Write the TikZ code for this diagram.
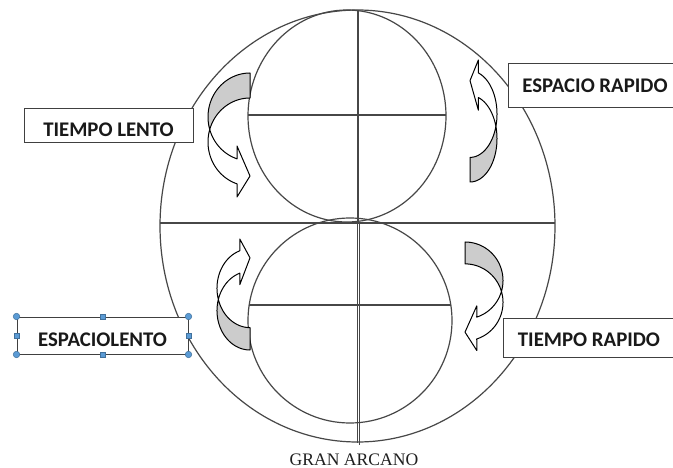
\documentclass[tikz,border=0pt]{standalone}
\usepackage{fontspec}
\setmainfont{Liberation Serif}
\newfontfamily\calfont{Carlito}
\definecolor{hfill}{RGB}{91,155,213}
\definecolor{hdraw}{RGB}{65,113,156}
\definecolor{backgray}{RGB}{204,204,204}
\tikzset{
  circ/.style={draw=black!72, line width=1.2pt},
  arrowline/.style={draw=black, line width=1pt, line join=round},
  labelbox/.style={draw=black!75, line width=1pt, fill=white, inner xsep=0pt, inner ysep=0pt, anchor=base,
    font=\calfont\bfseries\fontsize{20.8}{24}\selectfont, text=black!90},
  hcirc/.style={circle, fill=hfill, draw=hdraw, line width=0.5pt, inner sep=0pt, minimum size=6.5pt},
  hsq/.style={rectangle, fill=hfill, draw=hdraw, line width=0.5pt, inner sep=0pt, minimum size=5pt},
  curvarr/.pic={
    \path[fill=backgray, arrowline]
      plot[domain=270:163.5, samples=40, variable=\t] ({42*cos(\t)}, {44+44*sin(\t)})
      -- plot[domain=196.5:270, samples=40, variable=\t] ({42*cos(\t)}, {69+44*sin(\t)}) -- cycle;
    \path[fill=white, arrowline]
      plot[domain=196.5:108, samples=40, variable=\t] ({42*cos(\t)}, {69+44*sin(\t)})
      -- (-13,124) -- (0,103) -- (-13,73)
      -- plot[domain=108:163.5, samples=30, variable=\t] ({42*cos(\t)}, {44+44*sin(\t)}) -- cycle;
  }
}
\begin{document}
\begin{tikzpicture}[x=1pt,y=-1pt]
\useasboundingbox (0,0) rectangle (673,468);
\clip (0,0) rectangle (673,468);
\fill[white] (0,0) rectangle (673,468);

% circles
\draw[circ] (357.5,226) ellipse [x radius=197.5pt, y radius=216pt];
\draw[circ] (347,116) ellipse [x radius=99pt, y radius=106pt];
\draw[circ] (350,320.5) ellipse [x radius=102pt, y radius=102.5pt];

% lines
\draw[circ] (160,223) -- (555,223);
\draw[circ] (248,115) -- (446,115);
\draw[circ] (249,305) -- (451,305);
\draw[circ] (358,10) -- (358,223);
\draw[circ, line width=1pt] (357,223) -- (357,443);
\draw[circ, line width=1pt] (359.3,223) -- (359.3,445);

% curved arrows
\pic at (250,73) {curvarr};
\pic[xscale=-0.643, yscale=-0.984] at (470,182) {curvarr};
\pic[xscale=0.786, yscale=-0.895] at (250,350) {curvarr};
\pic[xscale=-0.905, yscale=0.875] at (465,242) {curvarr};

% label boxes
\node[labelbox, minimum width=169pt, text height=27.7pt, text depth=6.3pt] (tl) at (108.5,136.7) {TIEMPO LENTO};
\node[labelbox, minimum width=174pt, text height=28.7pt, text depth=15.3pt] (er) at (595,92.7) {ESPACIO RAPIDO};
\node[labelbox, minimum width=172pt, text height=28.7pt, text depth=10.3pt] (tr) at (589,346.7) {TIEMPO RAPIDO};
\node[labelbox, minimum width=171pt, text height=29.7pt, text depth=7.3pt] (el) at (102.5,346.7) {ESPACIOLENTO};

% selection handles
\node[hcirc] (h1) at (el.north west) {};
\node[hcirc] (h2) at (el.north east) {};
\node[hcirc] (h3) at (el.south west) {};
\node[hcirc] (h4) at (el.south east) {};
\node[hsq] (h5) at (el.north) {};
\node[hsq] (h6) at (el.south) {};
\node[hsq] (h7) at (el.west) {};
\node[hsq] (h8) at (el.east) {};

% title
\node[font=\fontsize{17.6}{20}\selectfont, text=black!88, anchor=base, inner sep=0pt] (title) at (354,465) {GRAN ARCANO};
\end{tikzpicture}
\end{document}
